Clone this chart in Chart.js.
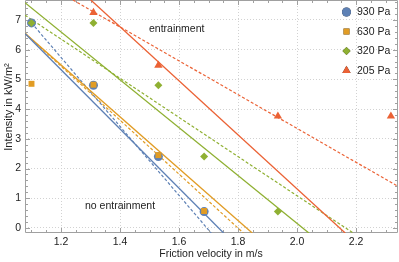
<!DOCTYPE html>
<html>
<head>
<meta charset="utf-8">
<script src="https://cdn.jsdelivr.net/npm/chart.js@4.4.1/dist/chart.umd.min.js"></script>
<style>
html,body{margin:0;padding:0;background:#fff;}
canvas{display:block;}
</style>
</head>
<body>
<canvas id="myChart" width="399" height="262"></canvas>
<script>
// tick labels
const xTicks = [1.2, 1.4, 1.6, 1.8, 2.0, 2.2];
const yTicks = [0, 1, 2, 3, 4, 5, 6, 7];

// measured points (friction velocity, intensity)
const names = ['930 Pa', '630 Pa', '320 Pa', '205 Pa'];
const colors = ['#5e81b5', '#e19c24', '#8fb032', '#eb6235'];
const shapes = ['circle', 'rect', 'rectRot', 'triangle'];
const vel930 = [1.10, 1.31, 1.53, 1.685];
const int930 = [6.9, 4.8, 2.4, 0.55];
const vel630 = [1.10, 1.31, 1.53, 1.685];
const int630 = [4.85, 4.82, 2.45, 0.57];
const vel320 = [1.10, 1.31, 1.53, 1.685, 1.935];
const int320 = [6.9, 6.9, 4.8, 2.4, 0.55];
const vel205 = [1.31, 1.53, 1.935, 2.318];
const int205 = [7.25, 5.47, 3.76, 3.76];

// threshold lines (two end points each)
const solid930 = [[1.078, 6.54], [1.751, -0.17]];
const dash930 = [[1.1, 6.9], [1.709, -0.17]];
const solid630 = [[1.078, 6.55], [1.848, -0.17]];
const dash630 = [[1.078, 6.55], [1.818, -0.17]];
const solid320 = [[1.078, 7.58], [2.04, -0.17]];
const dash320 = [[1.078, 7.16], [2.19, -0.17]];
const solid205 = [[1.301, 7.67], [2.163, -0.17]];
const dash205 = [[1.2405, 7.67], [2.342, 1.40]];

const xMin = 1.078, xMax = 2.342, yMin = -0.17, yMax = 7.67;
const FONT = '"Liberation Sans", Arial, sans-serif';

function pts(xs, ys){ return xs.map((x, i) => ({x: x, y: ys[i]})); }
function seg(p){ return p.map(v => ({x: v[0], y: v[1]})); }

const pointSets = [[vel930, int930], [vel630, int630], [vel320, int320], [vel205, int205]];
const radii = [4.5, 4.2, 4, 4.8];
const solidLines = [solid930, solid630, solid320, solid205];
const dashLines = [dash930, dash630, dash320, dash205];

const datasets = [];
pointSets.forEach((s, i) => {
  datasets.push({
    label: names[i],
    data: pts(s[0], s[1]),
    showLine: false,
    pointStyle: shapes[i],
    pointRadius: radii[i],
    pointBackgroundColor: colors[i],
    pointBorderWidth: 0,
    order: 4 - i
  });
});
solidLines.forEach((l, i) => {
  datasets.push({
    label: names[i] + ' fit',
    data: seg(l),
    showLine: true,
    borderColor: colors[i],
    borderWidth: 1.3,
    pointRadius: 0,
    order: 20 + i
  });
});
dashLines.forEach((l, i) => {
  datasets.push({
    label: names[i] + ' fit dashed',
    data: seg(l),
    showLine: true,
    borderColor: colors[i],
    borderWidth: 1.2,
    borderDash: [3, 2],
    pointRadius: 0,
    order: 30 + i
  });
});

const decor = {
  id: 'decor',
  beforeDatasetsDraw(chart){
    const ctx = chart.ctx;
    const a = chart.chartArea;
    const xs = chart.scales.x, ys = chart.scales.y;
    ctx.save();
    ctx.strokeStyle = '#a0a0a0';
    ctx.lineWidth = 1;
    ctx.beginPath();
    ctx.rect(a.left + 0.5, a.top + 0.5, a.right - a.left - 1, a.bottom - a.top - 1);
    ctx.stroke();
    // inward ticks
    ctx.beginPath();
    for (let k = 22; k * 0.05 <= xMax; k++) {
      const v = k * 0.05;
      const px = Math.round(xs.getPixelForValue(v)) + 0.5;
      const len = k % 4 === 0 ? 5 : 3;
      ctx.moveTo(px, a.bottom); ctx.lineTo(px, a.bottom - len);
      ctx.moveTo(px, a.top); ctx.lineTo(px, a.top + len);
    }
    for (let k = 0; k * 0.2 <= yMax; k++) {
      const py = Math.round(ys.getPixelForValue(k * 0.2)) + 0.5;
      const len = k % 5 === 0 ? 5 : 3;
      ctx.moveTo(a.left, py); ctx.lineTo(a.left + len, py);
      ctx.moveTo(a.right, py); ctx.lineTo(a.right - len, py);
    }
    ctx.stroke();
    ctx.restore();
  },
  afterDraw(chart){
    const ctx = chart.ctx;
    const xs = chart.scales.x, ys = chart.scales.y;
    ctx.save();
    ctx.fillStyle = '#222';
    ctx.font = '10.5px ' + FONT;
    ctx.textBaseline = 'middle';
    ctx.textAlign = 'center';
    ctx.fillText('entrainment', xs.getPixelForValue(1.592), ys.getPixelForValue(6.69));
    ctx.fillText('no entrainment', xs.getPixelForValue(1.4), ys.getPixelForValue(0.73));
    // axis titles
    ctx.fillText('Friction velocity in m/s', 211, 254.5);
    ctx.save();
    ctx.translate(9, 107);
    ctx.rotate(-Math.PI / 2);
    ctx.font = '11px ' + FONT;
    ctx.fillText('Intensity in kW/m\u00b2', 0, 0);
    ctx.restore();
    // legend
    ctx.textAlign = 'left';
    names.forEach((n, i) => {
      const y = 12 + i * 19.5;
      Chart.helpers.drawPoint(ctx, {pointStyle: shapes[i], radius: radii[i], borderWidth: 0}, 346.5, y);
      ctx.fillStyle = colors[i];
      ctx.fill();
      ctx.fillStyle = '#222';
      ctx.fillText(n, 357, y + 0.5);
    });
    ctx.restore();
  }
};

const myChart = new Chart(document.getElementById('myChart'), {
  type: 'scatter',
  data: {datasets: datasets},
  options: {
    responsive: false,
    animation: false,
    layout: {autoPadding: false, padding: {top: 0, right: 1, left: 0, bottom: 0}},
    plugins: {legend: {display: false}, tooltip: {enabled: false}},
    scales: {
      x: {
        type: 'linear',
        min: xMin, max: xMax,
        afterBuildTicks: s => { s.ticks = xTicks.map(v => ({value: v})); },
        afterFit: s => { s.height = 29; s.paddingLeft = 0; s.paddingRight = 0; },
        ticks: {
          callback: v => v.toFixed(1),
          color: '#222', padding: 3,
          font: {size: 10.5, family: FONT}
        },
        grid: {color: '#d2d2d2', drawTicks: false, lineWidth: 1},
        border: {display: false, dash: [1, 2]}
      },
      y: {
        type: 'linear',
        min: yMin, max: yMax,
        afterBuildTicks: s => { s.ticks = yTicks.map(v => ({value: v})); },
        afterFit: s => { s.width = 25; s.paddingTop = 0; s.paddingBottom = 0; },
        ticks: {
          color: '#222', padding: 4,
          font: {size: 10.5, family: FONT}
        },
        grid: {color: '#d2d2d2', drawTicks: false, lineWidth: 1},
        border: {display: false, dash: [1, 2]}
      }
    }
  },
  plugins: [decor]
});
</script>
</body>
</html>
